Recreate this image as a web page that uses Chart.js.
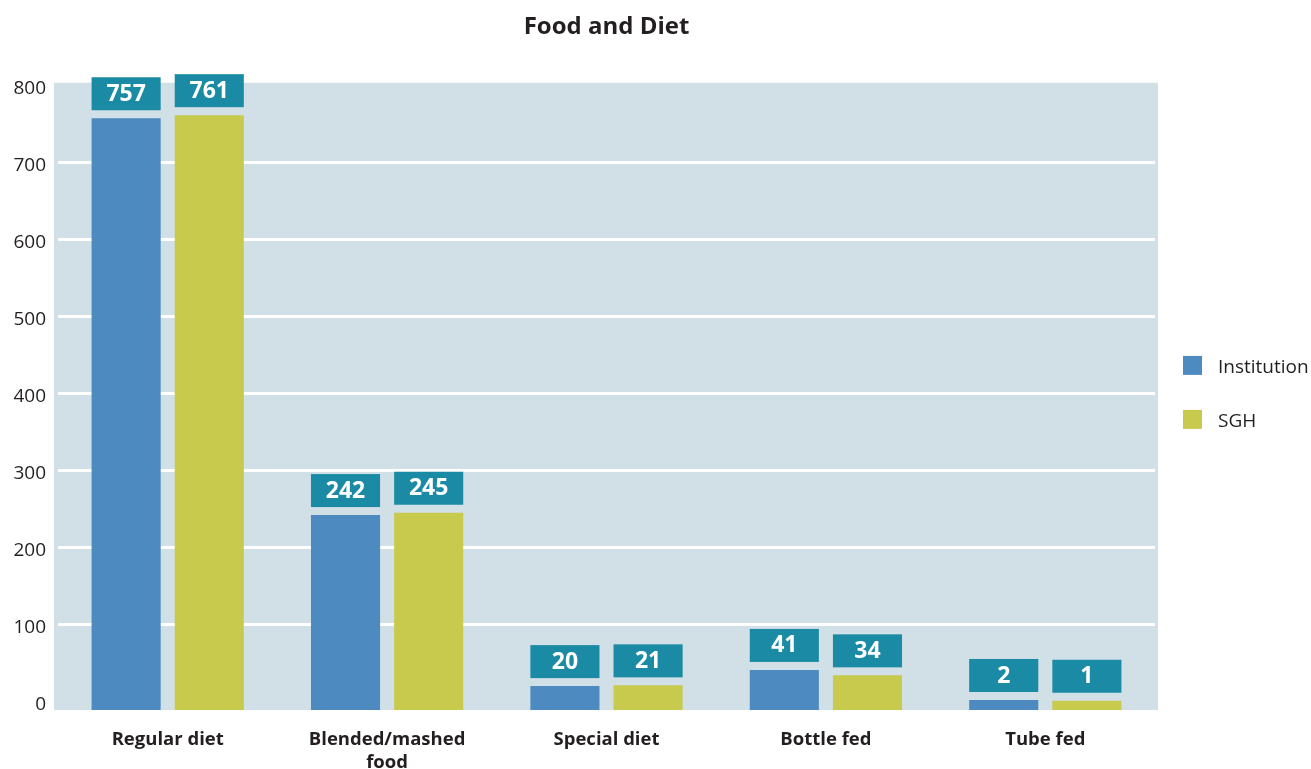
<!DOCTYPE html>
<html>
<head>
<meta charset="utf-8">
<title>Food and Diet</title>
<script src="https://cdn.jsdelivr.net/npm/chart.js@4/dist/chart.umd.min.js"></script>
<style>
  html, body { margin: 0; padding: 0; background: #fff; }
  #wrap { width: 1311px; height: 769px; }
</style>
</head>
<body>
<div id="wrap"><canvas id="diet-chart" width="1311" height="769"></canvas></div>
<script>
const categories = ["Regular diet", ["Blended/mashed", "food"], "Special diet", "Bottle fed", "Tube fed"];
const institution = [757, 242, 20, 41, 2];
const sgh = [761, 245, 21, 34, 1];
const yTicks = [0, 100, 200, 300, 400, 500, 600, 700, 800];
const yMin = -11;
const yMax = 803;

const FONT = "'Open Sans', 'Noto Sans', sans-serif";
const TEXT = "#231f20";
const PANEL = "#d1dfe6";
const TAG = "#1b8ba5";

// light panel behind the bars, a few px wider than the category band
const panelBg = {
  id: "panelBg",
  beforeDraw(chart) {
    const a = chart.chartArea;
    const ctx = chart.ctx;
    ctx.save();
    ctx.fillStyle = PANEL;
    ctx.fillRect(a.left - 4, a.top, a.right - a.left + 7, a.bottom - a.top);
    ctx.restore();
  }
};

// teal value tags sitting just above each bar
const valueTags = {
  id: "valueTags",
  afterDatasetsDraw(chart) {
    const ctx = chart.ctx;
    ctx.save();
    ctx.font = "bold 23px " + FONT;
    ctx.textAlign = "center";
    ctx.textBaseline = "middle";
    chart.data.datasets.forEach((ds, i) => {
      chart.getDatasetMeta(i).data.forEach((bar, j) => {
        const w = bar.width;
        const bottom = bar.y - 8;
        ctx.fillStyle = TAG;
        ctx.fillRect(bar.x - w / 2, bottom - 33, w, 33);
        ctx.fillStyle = "#fff";
        ctx.fillText(String(ds.data[j]), bar.x, bottom - 16);
      });
    });
    ctx.restore();
  }
};

// legend on the right, square swatches
const sideLegend = {
  id: "sideLegend",
  afterDraw(chart) {
    const ctx = chart.ctx;
    const mid = (chart.chartArea.top + chart.chartArea.bottom) / 2;
    ctx.save();
    ctx.font = "19px " + FONT;
    ctx.textBaseline = "middle";
    ctx.textAlign = "left";
    chart.data.datasets.forEach((ds, i) => {
      const y = mid - 31 + i * 54;
      ctx.fillStyle = ds.backgroundColor;
      ctx.fillRect(1183, y - 9.5, 19, 19);
      ctx.fillStyle = TEXT;
      ctx.fillText(ds.label, 1218, y + 2);
    });
    ctx.restore();
  }
};

new Chart(document.getElementById("diet-chart"), {
  type: "bar",
  data: {
    labels: categories,
    datasets: [
      { label: "Institution", data: institution, backgroundColor: "#4d8abf", base: yMin },
      { label: "SGH", data: sgh, backgroundColor: "#c8ca4d", base: yMin }
    ]
  },
  options: {
    responsive: false,
    animation: false,
    layout: { padding: { left: 0, right: 156, top: 0, bottom: -23 } },
    datasets: {
      bar: { categoryPercentage: 0.758, barPercentage: 0.831 }
    },
    plugins: {
      legend: { display: false },
      tooltip: { enabled: false },
      title: {
        display: true,
        text: "Food and Diet",
        fullSize: false,
        color: TEXT,
        font: { family: FONT, size: 24, weight: "bold", lineHeight: 1.2 },
        padding: { top: 13, bottom: 41 }
      }
    },
    scales: {
      x: {
        grid: { display: false, drawTicks: false },
        border: { display: false },
        ticks: {
          color: TEXT,
          padding: 18,
          maxRotation: 0,
          font: { family: FONT, size: 18.5, weight: "bold", lineHeight: "23px" }
        }
      },
      y: {
        min: yMin,
        max: yMax,
        afterBuildTicks(scale) {
          scale.ticks = yTicks.map(v => ({ value: v }));
        },
        afterFit(scale) {
          scale.width = 58;
        },
        border: { display: false },
        grid: {
          drawTicks: false,
          lineWidth: 3,
          color: ctx => (ctx.tick && (ctx.tick.value === 0 || ctx.tick.value === 800)) ? "rgba(0,0,0,0)" : "#ffffff"
        },
        ticks: {
          color: TEXT,
          padding: 12,
          labelOffset: 3,
          font: { family: FONT, size: 19 }
        }
      }
    }
  },
  plugins: [panelBg, valueTags, sideLegend]
});
</script>
</body>
</html>
